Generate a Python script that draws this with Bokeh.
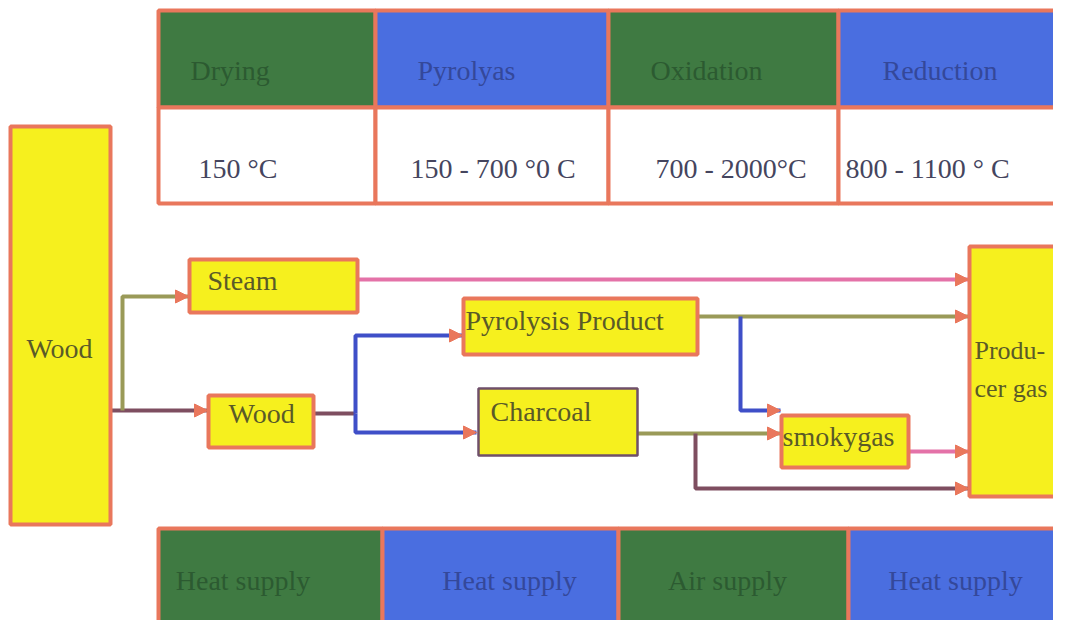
from bokeh.plotting import figure
from bokeh.models import Range1d, Arrow, NormalHead
from bokeh.core.properties import value
from bokeh.embed import file_html
from bokeh.resources import INLINE

# ---- content ----
stage_names = ["Drying", "Pyrolyas", "Oxidation", "Reduction"]
stage_temps = ["150 °C", "150 - 700 °0 C", "700 - 2000°C", "800 - 1100 ° C"]
supply_names = ["Heat  supply", "Heat supply", "Air supply", "Heat supply"]
box_labels = ["Wood", "Steam", "Wood", "Pyrolysis Product", "Charcoal", "smokygas", "Produ-\ncer gas"]

# ---- layout (pixel coordinates of the diagram) ----
W, H = 1053, 620
ORANGE = "#e9775c"
YELLOW = "#f6f01e"
GREEN = "#3f7a42"
BLUE = "#4a6ee0"
HDR_TXT = ["#2c5a31", "#34489a", "#2c5a31", "#34489a"]
SERIF = value("Liberation Serif")
FS = "28px"

top_cols = [158, 375, 608, 838, 1075]
top_rows = [10, 107, 203]
hdr_dx = [32, 42, 42, 44]
val_dx = [40, 35, 47, 7]
bot_cols = [158, 382, 618, 848, 1075]
bot_rows = [528, 640]
bot_cx = [246, 509, 727, 955]

# boxes: left, right, top, bottom
box_geo = [
    (10, 110, 126, 524),
    (189, 357, 259, 312),
    (208, 313, 395, 447),
    (463, 697, 298, 354),
    (478, 637, 388, 455),
    (781, 908, 415, 467),
    (969, 1075, 246, 496),
]
box_line = [ORANGE, ORANGE, ORANGE, ORANGE, "#6f4f6a", ORANGE, ORANGE]
box_lw = [4, 4, 4, 4, 2.5, 4, 4]
box_text_xy = [(59, 348), (207, 280), (228, 413), (465, 320), (490, 411), (782, 436), (974, 369)]
box_text_align = ["center", "left", "left", "left", "left", "left", "left"]
box_text_size = [FS, FS, FS, FS, FS, FS, "26px"]

PINK = "#e472a8"
OLIVE = "#9a9a58"
MAROON = "#7e4e60"
BLUEL = "#3f4fc8"
connectors = [
    ([110, 207], [410, 410], MAROON, True),
    ([122, 122, 188], [410, 296, 296], OLIVE, True),
    ([313, 355], [413, 413], MAROON, False),
    ([355, 355, 462], [413, 335, 335], BLUEL, True),
    ([355, 355, 476], [413, 432, 432], BLUEL, True),
    ([357, 968], [279, 279], PINK, True),
    ([697, 968], [316, 316], OLIVE, True),
    ([740, 740, 780], [316, 410, 410], BLUEL, True),
    ([637, 780], [433, 433], OLIVE, True),
    ([695, 695, 968], [433, 488, 488], MAROON, True),
    ([908, 968], [451, 451], PINK, True),
]

p = figure(width=W, height=H, output_backend="svg", toolbar_location=None,
           x_range=Range1d(0, W), y_range=Range1d(H, 0),
           min_border=0)
p.axis.visible = False
p.grid.visible = False
p.outline_line_color = None
p.background_fill_color = "white"

# top table
for i in range(4):
    l, r = top_cols[i], top_cols[i + 1]
    p.quad(left=l, right=r, top=top_rows[0], bottom=top_rows[1],
           fill_color=GREEN if i % 2 == 0 else BLUE, line_color=ORANGE, line_width=4)
    p.quad(left=l, right=r, top=top_rows[1], bottom=top_rows[2],
           fill_color="white", line_color=ORANGE, line_width=4)
    p.text(x=[l + hdr_dx[i]], y=[70], text=[stage_names[i]],
           text_font=SERIF, text_font_size=FS, text_color=HDR_TXT[i],
           text_baseline="middle")
    p.text(x=[l + val_dx[i]], y=[168], text=[stage_temps[i]], text_font=SERIF,
           text_font_size=FS, text_color="#45455e", text_baseline="middle")

# bottom table
for i in range(4):
    l, r = bot_cols[i], bot_cols[i + 1]
    p.quad(left=l, right=r, top=bot_rows[0], bottom=bot_rows[1],
           fill_color=GREEN if i % 2 == 0 else BLUE, line_color=ORANGE, line_width=4)
    p.text(x=[bot_cx[i]], y=[580], text=[supply_names[i]], text_font=SERIF,
           text_font_size=FS, text_color=HDR_TXT[i], text_align="center",
           text_baseline="middle")

# connectors
for xs, ys, col, arrow in connectors:
    p.line(xs, ys, line_color=col, line_width=4)
    if arrow:
        p.add_layout(Arrow(x_start=xs[-2], y_start=ys[-2], x_end=xs[-1], y_end=ys[-1],
                           line_color=None, line_width=0,
                           end=NormalHead(size=13, fill_color=ORANGE, line_color=ORANGE)))

# boxes
for (l, r, t, b), lab, lc, lw, (tx, ty), al, fs in zip(box_geo, box_labels, box_line, box_lw,
                                                         box_text_xy, box_text_align, box_text_size):
    p.quad(left=l, right=r, top=t, bottom=b, fill_color=YELLOW, line_color=lc, line_width=lw)
    p.text(x=[tx], y=[ty], text=[lab], text_font=SERIF, text_font_size=fs,
           text_color="#5a5a28", text_baseline="middle", text_align=al,
           text_line_height=1.3)

open("out.html", "w").write(file_html(p, INLINE))
